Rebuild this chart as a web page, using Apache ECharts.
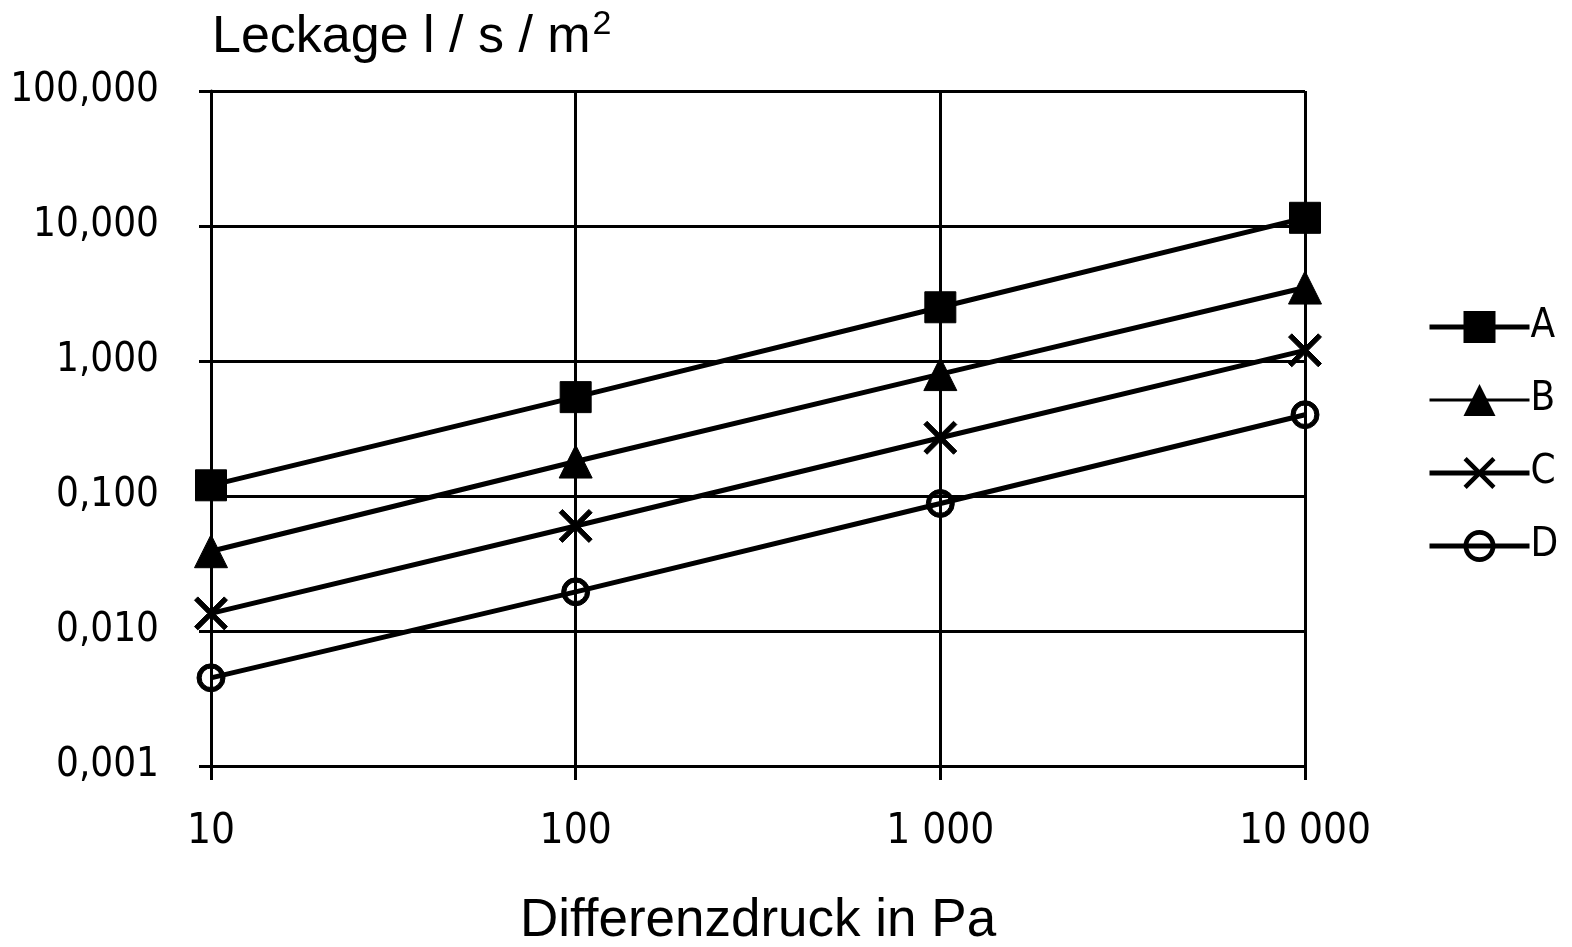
<!DOCTYPE html>
<html>
<head>
<meta charset="utf-8">
<script src="https://cdn.jsdelivr.net/npm/echarts@6/dist/echarts.min.js"></script>
<style>
html,body{margin:0;padding:0;background:#fff;}
#chart{width:1572px;height:947px;}
</style>
</head>
<body>
<div id="chart"></div>
<script>
const pressures = [10, 100, 1000, 10000];
const seriesNames = ['A', 'B', 'C', 'D'];
const valuesA = [0.12, 0.54, 2.5, 11.5];
const valuesB = [0.039, 0.18, 0.80, 3.5];
const valuesC = [0.0135, 0.06, 0.27, 1.2];
const valuesD = [0.0045, 0.0195, 0.088, 0.40];
const xTickLabels = {10: '10', 100: '100', 1000: '1 000', 10000: '10 000'};

const crossPath = 'path://M10,0 L50,40 L90,0 L100,10 L60,50 L100,90 L90,100 L50,60 L10,100 L0,90 L40,50 L0,10 Z';
const ringPath = 'path://M50,0 A50,50 0 1,1 50,100 A50,50 0 1,1 50,0 Z M50,15 A35,35 0 1,0 50,85 A35,35 0 1,0 50,15 Z';

function pts(vals){ return pressures.map((p,i)=>[p, vals[i]]); }

const chart = echarts.init(document.getElementById('chart'));
const numFont = 'DejaVu Sans Condensed';
const mk = (name, vals, symbol, size, extra) => Object.assign({
  name, type: 'line', data: pts(vals), symbol, symbolSize: size,
  lineStyle: {color: '#000', width: 5},
  itemStyle: {color: '#000', borderColor: '#000'},
  animation: false, z: 3
}, extra || {});

chart.setOption({
  backgroundColor: '#fff',
  animation: false,
  title: {
    text: '{a|Leckage l / s / m}{s|2}',
    left: 207, top: 3,
    textStyle: {
      fontWeight: 'normal',
      rich: {
        a: {fontFamily: 'Liberation Sans', fontSize: 52, fontWeight: 'normal', color: '#000', lineHeight: 60},
        s: {fontFamily: 'Liberation Sans', fontSize: 34, fontWeight: 'normal', color: '#000', verticalAlign: 'top', lineHeight: 60, padding:[0,0,20,2]}
      }
    }
  },
  grid: {left: 211, right: 267, top: 91, bottom: 181, containLabel: false, outerBoundsMode: 'none'},
  legend: {
    orient: 'vertical', left: 1422, top: 302,
    itemWidth: 100, itemHeight: 40, itemGap: 33,
    lineStyle: {width: 5, color: '#000'},
    textStyle: {fontFamily: numFont, fontSize: 40, color: '#000', padding: [0,0,0,-4]},
    data: [
      {name: 'A'},
      {name: 'B', lineStyle: {width: 3, color: '#000'}},
      {name: 'C'},
      {name: 'D'}
    ]
  },
  xAxis: {
    type: 'log', logBase: 10, min: 10, max: 10000,
    name: 'Differenzdruck in Pa', nameLocation: 'middle', nameGap: 129,
    nameTextStyle: {fontFamily: 'Liberation Sans', fontSize: 53, color: '#000'},
    axisLine: {show: true, lineStyle: {color: '#000', width: 3}},
    axisTick: {show: true, length: 14, lineStyle: {color: '#000', width: 3}},
    minorTick: {show: false},
    splitLine: {show: true, lineStyle: {color: '#000', width: 3}},
    axisLabel: {
      fontFamily: numFont, fontSize: 42, color: '#000', margin: 45,
      formatter: v => xTickLabels[Math.round(v)] || ''
    }
  },
  yAxis: {
    type: 'log', logBase: 10, min: 0.001, max: 100,
    axisLine: {show: true, lineStyle: {color: '#000', width: 3}},
    axisTick: {show: true, length: 12, lineStyle: {color: '#000', width: 3}},
    minorTick: {show: false},
    splitLine: {show: true, lineStyle: {color: '#000', width: 3}},
    axisLabel: {
      fontFamily: numFont, fontSize: 40, color: '#000', margin: 52,
      formatter: v => Number(v).toFixed(3).replace('.', ',')
    }
  },
  series: [
    mk('A', valuesA, 'rect', 31),
    mk('B', valuesB, 'triangle', 33),
    mk('C', valuesC, crossPath, 33),
    mk('D', valuesD, ringPath, 28)
  ]
});
</script>
</body>
</html>
